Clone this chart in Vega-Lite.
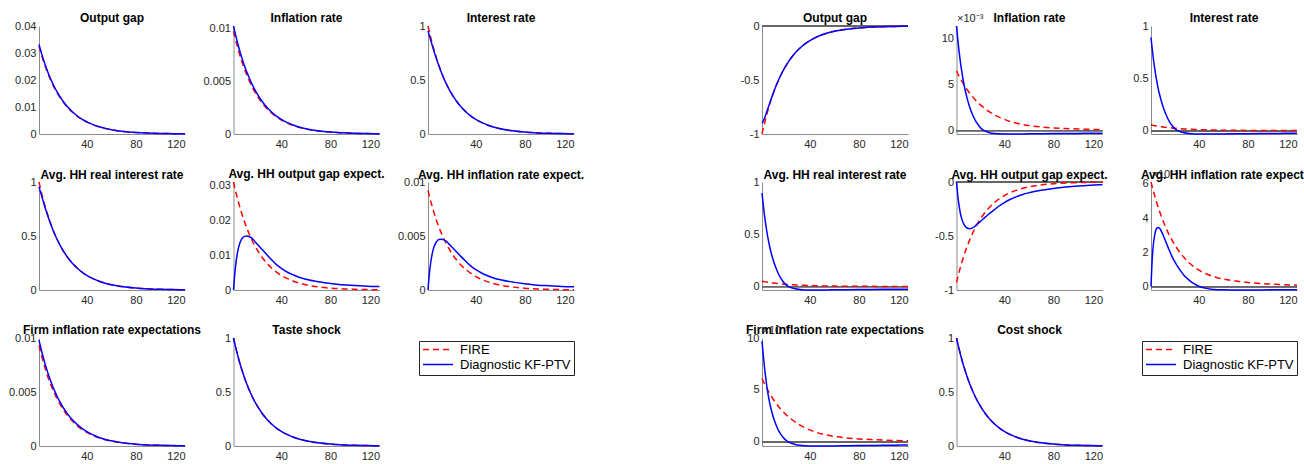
{
  "$schema": "https://vega.github.io/schema/vega-lite/v6.json",
  "padding": {"left": 8, "top": 12, "right": 0, "bottom": 0},
  "config": {
    "view": {"stroke": null},
    "font": "Liberation Sans",
    "locale": {"number": {"decimal": ".", "thousands": ",", "grouping": [3], "currency": ["$", ""], "minus": "-"}},
    "axis": {"grid": false, "ticks": false, "labelOverlap": false, "domainColor": "#8c8c8c", "domainWidth": 1, "labelColor": "#262626", "labelFontSize": 11, "labelFont": "Liberation Sans"},
    "axisX": {"labelPadding": 4},
    "axisY": {"labelPadding": 3},
    "rule": {"color": "#666666", "strokeWidth": 1},
    "title": {"fontSize": 12, "fontWeight": "bold", "color": "#000000", "frame": "group", "anchor": "middle", "offset": 5, "baseline": "alphabetic", "font": "Liberation Sans"}
  },
  "datasets": {
    "taste": [
      {"t":1,"og_f":0.0325,"og_d":0.0332,"pi_f":0.0097,"pi_d":0.0102,"i_f":1,"i_d":0.955,"r_f":1,"r_d":0.955,"ey_f":0.031,"ey_d":0,"epi_f":0.0092,"epi_d":0,"fpi_f":0.0093,"fpi_d":0.0098,"sh":1},
      {"t":2,"og_f":0.03088,"og_d":0.03154,"pi_f":0.00922,"pi_d":0.00969,"i_f":0.95,"i_d":0.9158,"r_f":0.95,"r_d":0.9158,"ey_f":0.02945,"ey_d":0.0045,"epi_f":0.00874,"epi_d":0.00136,"fpi_f":0.00884,"fpi_d":0.00931,"sh":0.95},
      {"t":3,"og_f":0.02933,"og_d":0.02996,"pi_f":0.00875,"pi_d":0.00921,"i_f":0.9025,"i_d":0.8765,"r_f":0.9025,"r_d":0.8765,"ey_f":0.02798,"ey_d":0.0078,"epi_f":0.0083,"epi_d":0.00236,"fpi_f":0.00839,"fpi_d":0.00884,"sh":0.9025},
      {"t":4,"og_f":0.02787,"og_d":0.02847,"pi_f":0.00832,"pi_d":0.00875,"i_f":0.8574,"i_d":0.8376,"r_f":0.8574,"r_d":0.8376,"ey_f":0.02658,"ey_d":0.0102,"epi_f":0.00789,"epi_d":0.00309,"fpi_f":0.00797,"fpi_d":0.0084,"sh":0.8574},
      {"t":5,"og_f":0.02647,"og_d":0.02704,"pi_f":0.0079,"pi_d":0.00831,"i_f":0.8145,"i_d":0.7995,"r_f":0.8145,"r_d":0.7995,"ey_f":0.02525,"ey_d":0.012,"epi_f":0.00749,"epi_d":0.00364,"fpi_f":0.00757,"fpi_d":0.00798,"sh":0.8145},
      {"t":6,"og_f":0.02515,"og_d":0.02569,"pi_f":0.00751,"pi_d":0.00789,"i_f":0.7738,"i_d":0.7623,"r_f":0.7738,"r_d":0.7623,"ey_f":0.02399,"ey_d":0.0133,"epi_f":0.00712,"epi_d":0.00403,"fpi_f":0.0072,"fpi_d":0.00758,"sh":0.7738},
      {"t":7,"og_f":0.02389,"og_d":0.0244,"pi_f":0.00713,"pi_d":0.0075,"i_f":0.7351,"i_d":0.7264,"r_f":0.7351,"r_d":0.7264,"ey_f":0.02279,"ey_d":0.0142,"epi_f":0.00676,"epi_d":0.0043,"fpi_f":0.00684,"fpi_d":0.0072,"sh":0.7351},
      {"t":8,"og_f":0.02269,"og_d":0.02318,"pi_f":0.00677,"pi_d":0.00712,"i_f":0.6983,"i_d":0.6917,"r_f":0.6983,"r_d":0.6917,"ey_f":0.02165,"ey_d":0.0148,"epi_f":0.00642,"epi_d":0.00448,"fpi_f":0.00649,"fpi_d":0.00684,"sh":0.6983},
      {"t":10,"og_f":0.02048,"og_d":0.02092,"pi_f":0.00611,"pi_d":0.00643,"i_f":0.6302,"i_d":0.6264,"r_f":0.6302,"r_d":0.6264,"ey_f":0.01954,"ey_d":0.0154,"epi_f":0.0058,"epi_d":0.00467,"fpi_f":0.00586,"fpi_d":0.00618,"sh":0.6302},
      {"t":12,"og_f":0.01849,"og_d":0.01888,"pi_f":0.00552,"pi_d":0.0058,"i_f":0.5688,"i_d":0.5666,"r_f":0.5688,"r_d":0.5666,"ey_f":0.01763,"ey_d":0.0155,"epi_f":0.00523,"epi_d":0.0047,"fpi_f":0.00529,"fpi_d":0.00557,"sh":0.5688},
      {"t":14,"og_f":0.01668,"og_d":0.01704,"pi_f":0.00498,"pi_d":0.00524,"i_f":0.5133,"i_d":0.512,"r_f":0.5133,"r_d":0.512,"ey_f":0.01591,"ey_d":0.0153,"epi_f":0.00472,"epi_d":0.00464,"fpi_f":0.00477,"fpi_d":0.00503,"sh":0.5133},
      {"t":16,"og_f":0.01506,"og_d":0.01538,"pi_f":0.00449,"pi_d":0.00473,"i_f":0.4633,"i_d":0.4626,"r_f":0.4633,"r_d":0.4626,"ey_f":0.01436,"ey_d":0.0149,"epi_f":0.00426,"epi_d":0.00451,"fpi_f":0.00431,"fpi_d":0.00454,"sh":0.4633},
      {"t":18,"og_f":0.01359,"og_d":0.01388,"pi_f":0.00406,"pi_d":0.00426,"i_f":0.4181,"i_d":0.4177,"r_f":0.4181,"r_d":0.4177,"ey_f":0.01296,"ey_d":0.0141,"epi_f":0.00385,"epi_d":0.00427,"fpi_f":0.00389,"fpi_d":0.0041,"sh":0.4181},
      {"t":20,"og_f":0.01227,"og_d":0.01253,"pi_f":0.00366,"pi_d":0.00385,"i_f":0.3774,"i_d":0.3772,"r_f":0.3774,"r_d":0.3772,"ey_f":0.0117,"ey_d":0.0133,"epi_f":0.00347,"epi_d":0.00403,"fpi_f":0.00351,"fpi_d":0.0037,"sh":0.3774},
      {"t":22,"og_f":0.01107,"og_d":0.01131,"pi_f":0.0033,"pi_d":0.00347,"i_f":0.3406,"i_d":0.3406,"r_f":0.3406,"r_d":0.3406,"ey_f":0.01056,"ey_d":0.0125,"epi_f":0.00313,"epi_d":0.00379,"fpi_f":0.00317,"fpi_d":0.00334,"sh":0.3406},
      {"t":25,"og_f":0.00949,"og_d":0.00969,"pi_f":0.00283,"pi_d":0.00298,"i_f":0.292,"i_d":0.292,"r_f":0.292,"r_d":0.292,"ey_f":0.00905,"ey_d":0.0114,"epi_f":0.00269,"epi_d":0.00345,"fpi_f":0.00272,"fpi_d":0.00286,"sh":0.292},
      {"t":28,"og_f":0.00813,"og_d":0.00831,"pi_f":0.00243,"pi_d":0.00255,"i_f":0.2503,"i_d":0.2503,"r_f":0.2503,"r_d":0.2503,"ey_f":0.00776,"ey_d":0.0102,"epi_f":0.0023,"epi_d":0.00309,"fpi_f":0.00233,"fpi_d":0.00245,"sh":0.2503},
      {"t":32,"og_f":0.00663,"og_d":0.00677,"pi_f":0.00198,"pi_d":0.00208,"i_f":0.2039,"i_d":0.2039,"r_f":0.2039,"r_d":0.2039,"ey_f":0.00632,"ey_d":0.0087,"epi_f":0.00188,"epi_d":0.00264,"fpi_f":0.0019,"fpi_d":0.002,"sh":0.2039},
      {"t":36,"og_f":0.0054,"og_d":0.00551,"pi_f":0.00161,"pi_d":0.00169,"i_f":0.1661,"i_d":0.1661,"r_f":0.1661,"r_d":0.1661,"ey_f":0.00515,"ey_d":0.0073,"epi_f":0.00153,"epi_d":0.00221,"fpi_f":0.00154,"fpi_d":0.00163,"sh":0.1661},
      {"t":40,"og_f":0.0044,"og_d":0.00449,"pi_f":0.00131,"pi_d":0.00138,"i_f":0.1353,"i_d":0.1353,"r_f":0.1353,"r_d":0.1353,"ey_f":0.00419,"ey_d":0.0062,"epi_f":0.00124,"epi_d":0.00188,"fpi_f":0.00126,"fpi_d":0.00133,"sh":0.1353},
      {"t":45,"og_f":0.0034,"og_d":0.00348,"pi_f":0.00102,"pi_d":0.00107,"i_f":0.1047,"i_d":0.1047,"r_f":0.1047,"r_d":0.1047,"ey_f":0.00325,"ey_d":0.0051,"epi_f":0.00096,"epi_d":0.00155,"fpi_f":0.00097,"fpi_d":0.00103,"sh":0.1047},
      {"t":50,"og_f":0.00263,"og_d":0.00269,"pi_f":0.00079,"pi_d":0.00083,"i_f":0.081,"i_d":0.081,"r_f":0.081,"r_d":0.081,"ey_f":0.00251,"ey_d":0.0043,"epi_f":0.00075,"epi_d":0.0013,"fpi_f":0.00075,"fpi_d":0.00079,"sh":0.081},
      {"t":55,"og_f":0.00204,"og_d":0.00208,"pi_f":0.00061,"pi_d":0.00064,"i_f":0.0627,"i_d":0.0627,"r_f":0.0627,"r_d":0.0627,"ey_f":0.00194,"ey_d":0.0036,"epi_f":0.00058,"epi_d":0.00109,"fpi_f":0.00058,"fpi_d":0.00061,"sh":0.0627},
      {"t":60,"og_f":0.00158,"og_d":0.00161,"pi_f":0.00047,"pi_d":0.00049,"i_f":0.0485,"i_d":0.0485,"r_f":0.0485,"r_d":0.0485,"ey_f":0.0015,"ey_d":0.0031,"epi_f":0.00045,"epi_d":0.00094,"fpi_f":0.00045,"fpi_d":0.00048,"sh":0.0485},
      {"t":70,"og_f":0.00094,"og_d":0.00096,"pi_f":0.00028,"pi_d":0.0003,"i_f":0.029,"i_d":0.029,"r_f":0.029,"r_d":0.029,"ey_f":0.0009,"ey_d":0.0024,"epi_f":0.00027,"epi_d":0.00073,"fpi_f":0.00027,"fpi_d":0.00028,"sh":0.029},
      {"t":80,"og_f":0.00057,"og_d":0.00058,"pi_f":0.00017,"pi_d":0.00018,"i_f":0.0174,"i_d":0.0174,"r_f":0.0174,"r_d":0.0174,"ey_f":0.00054,"ey_d":0.0019,"epi_f":0.00016,"epi_d":0.00058,"fpi_f":0.00016,"fpi_d":0.00017,"sh":0.0174},
      {"t":90,"og_f":0.00034,"og_d":0.00035,"pi_f":0.0001,"pi_d":0.00011,"i_f":0.0104,"i_d":0.0104,"r_f":0.0104,"r_d":0.0104,"ey_f":0.00032,"ey_d":0.0015,"epi_f":0.0001,"epi_d":0.00045,"fpi_f":0.0001,"fpi_d":0.0001,"sh":0.0104},
      {"t":100,"og_f":0.0002,"og_d":0.00021,"pi_f":0.00006,"pi_d":0.00006,"i_f":0.0062,"i_d":0.0062,"r_f":0.0062,"r_d":0.0062,"ey_f":0.00019,"ey_d":0.0013,"epi_f":0.00006,"epi_d":0.00039,"fpi_f":0.00006,"fpi_d":0.00006,"sh":0.0062},
      {"t":110,"og_f":0.00012,"og_d":0.00012,"pi_f":0.00004,"pi_d":0.00004,"i_f":0.0037,"i_d":0.0037,"r_f":0.0037,"r_d":0.0037,"ey_f":0.00011,"ey_d":0.0011,"epi_f":0.00003,"epi_d":0.00033,"fpi_f":0.00003,"fpi_d":0.00004,"sh":0.0037},
      {"t":120,"og_f":0.00007,"og_d":0.00007,"pi_f":0.00002,"pi_d":0.00002,"i_f":0.0022,"i_d":0.0022,"r_f":0.0022,"r_d":0.0022,"ey_f":0.00007,"ey_d":0.001,"epi_f":0.00002,"epi_d":0.0003,"fpi_f":0.00002,"fpi_d":0.00002,"sh":0.0022}
    ],
    "cost": [
      {"t":1,"og_f":-1,"og_d":-0.9,"pi_f":6.5,"pi_d":11.4,"i_f":0.054,"i_d":0.89,"r_f":0.051,"r_d":0.895,"ey_f":-0.93,"ey_d":0,"epi_f":6.1,"epi_d":0,"fpi_f":6.1,"fpi_d":9.7,"sh":1},
      {"t":2,"og_f":-0.95,"og_d":-0.88,"pi_f":6.22,"pi_d":10,"i_f":0.0517,"i_d":0.78,"r_f":0.0488,"r_d":0.783,"ey_f":-0.8835,"ey_d":-0.12,"epi_f":5.82,"epi_d":1.6,"fpi_f":5.84,"fpi_d":8.4,"sh":0.95},
      {"t":3,"og_f":-0.9025,"og_d":-0.8535,"pi_f":5.95,"pi_d":8.75,"i_f":0.0495,"i_d":0.68,"r_f":0.0467,"r_d":0.683,"ey_f":-0.8393,"ey_d":-0.21,"epi_f":5.55,"epi_d":2.5,"fpi_f":5.59,"fpi_d":7.2,"sh":0.9025},
      {"t":4,"og_f":-0.8574,"og_d":-0.8231,"pi_f":5.7,"pi_d":7.65,"i_f":0.0474,"i_d":0.595,"r_f":0.0447,"r_d":0.597,"ey_f":-0.7974,"ey_d":-0.28,"epi_f":5.3,"epi_d":3,"fpi_f":5.35,"fpi_d":6.2,"sh":0.8574},
      {"t":5,"og_f":-0.8145,"og_d":-0.7905,"pi_f":5.46,"pi_d":6.7,"i_f":0.0454,"i_d":0.52,"r_f":0.0428,"r_d":0.521,"ey_f":-0.7575,"ey_d":-0.33,"epi_f":5.05,"epi_d":3.3,"fpi_f":5.12,"fpi_d":5.3,"sh":0.8145},
      {"t":6,"og_f":-0.7738,"og_d":-0.757,"pi_f":5.23,"pi_d":5.85,"i_f":0.0434,"i_d":0.455,"r_f":0.041,"r_d":0.455,"ey_f":-0.7196,"ey_d":-0.365,"epi_f":4.82,"epi_d":3.42,"fpi_f":4.9,"fpi_d":4.55,"sh":0.7738},
      {"t":7,"og_f":-0.7351,"og_d":-0.7233,"pi_f":5.01,"pi_d":5.1,"i_f":0.0416,"i_d":0.395,"r_f":0.0393,"r_d":0.395,"ey_f":-0.6836,"ey_d":-0.39,"epi_f":4.6,"epi_d":3.45,"fpi_f":4.7,"fpi_d":3.9,"sh":0.7351},
      {"t":8,"og_f":-0.6983,"og_d":-0.6901,"pi_f":4.79,"pi_d":4.45,"i_f":0.0398,"i_d":0.345,"r_f":0.0376,"r_d":0.345,"ey_f":-0.6494,"ey_d":-0.41,"epi_f":4.38,"epi_d":3.4,"fpi_f":4.5,"fpi_d":3.35,"sh":0.6983},
      {"t":10,"og_f":-0.6302,"og_d":-0.6262,"pi_f":4.39,"pi_d":3.35,"i_f":0.0365,"i_d":0.26,"r_f":0.0345,"r_d":0.259,"ey_f":-0.5861,"ey_d":-0.428,"epi_f":3.98,"epi_d":3.15,"fpi_f":4.12,"fpi_d":2.45,"sh":0.6302},
      {"t":12,"og_f":-0.5688,"og_d":-0.5668,"pi_f":4.03,"pi_d":2.45,"i_f":0.0335,"i_d":0.19,"r_f":0.0316,"r_d":0.189,"ey_f":-0.529,"ey_d":-0.432,"epi_f":3.62,"epi_d":2.8,"fpi_f":3.78,"fpi_d":1.75,"sh":0.5688},
      {"t":14,"og_f":-0.5133,"og_d":-0.5123,"pi_f":3.7,"pi_d":1.75,"i_f":0.0307,"i_d":0.133,"r_f":0.029,"r_d":0.132,"ey_f":-0.4774,"ey_d":-0.425,"epi_f":3.29,"epi_d":2.45,"fpi_f":3.47,"fpi_d":1.2,"sh":0.5133},
      {"t":16,"og_f":-0.4633,"og_d":-0.4628,"pi_f":3.39,"pi_d":1.2,"i_f":0.0282,"i_d":0.087,"r_f":0.0266,"r_d":0.086,"ey_f":-0.4309,"ey_d":-0.41,"epi_f":2.99,"epi_d":2.1,"fpi_f":3.18,"fpi_d":0.78,"sh":0.4633},
      {"t":18,"og_f":-0.4181,"og_d":-0.4179,"pi_f":3.11,"pi_d":0.75,"i_f":0.0259,"i_d":0.052,"r_f":0.0244,"r_d":0.051,"ey_f":-0.3888,"ey_d":-0.39,"epi_f":2.72,"epi_d":1.78,"fpi_f":2.92,"fpi_d":0.45,"sh":0.4181},
      {"t":20,"og_f":-0.3774,"og_d":-0.3773,"pi_f":2.86,"pi_d":0.4,"i_f":0.0238,"i_d":0.024,"r_f":0.0224,"r_d":0.023,"ey_f":-0.351,"ey_d":-0.37,"epi_f":2.47,"epi_d":1.5,"fpi_f":2.68,"fpi_d":0.2,"sh":0.3774},
      {"t":22,"og_f":-0.3406,"og_d":-0.3406,"pi_f":2.63,"pi_d":0.13,"i_f":0.0218,"i_d":0.005,"r_f":0.0206,"r_d":0.004,"ey_f":-0.3168,"ey_d":-0.35,"epi_f":2.25,"epi_d":1.25,"fpi_f":2.46,"fpi_d":0.02,"sh":0.3406},
      {"t":25,"og_f":-0.292,"og_d":-0.292,"pi_f":2.31,"pi_d":-0.1,"i_f":0.0192,"i_d":-0.011,"r_f":0.0181,"r_d":-0.012,"ey_f":-0.2716,"ey_d":-0.32,"epi_f":1.95,"epi_d":0.93,"fpi_f":2.17,"fpi_d":-0.15,"sh":0.292},
      {"t":28,"og_f":-0.2503,"og_d":-0.2503,"pi_f":2.03,"pi_d":-0.23,"i_f":0.0169,"i_d":-0.021,"r_f":0.016,"r_d":-0.022,"ey_f":-0.2328,"ey_d":-0.29,"epi_f":1.69,"epi_d":0.65,"fpi_f":1.91,"fpi_d":-0.26,"sh":0.2503},
      {"t":32,"og_f":-0.2039,"og_d":-0.2039,"pi_f":1.71,"pi_d":-0.32,"i_f":0.0142,"i_d":-0.028,"r_f":0.0134,"r_d":-0.029,"ey_f":-0.1896,"ey_d":-0.255,"epi_f":1.39,"epi_d":0.38,"fpi_f":1.6,"fpi_d":-0.34,"sh":0.2039},
      {"t":36,"og_f":-0.1661,"og_d":-0.1661,"pi_f":1.44,"pi_d":-0.36,"i_f":0.012,"i_d":-0.031,"r_f":0.0113,"r_d":-0.032,"ey_f":-0.1545,"ey_d":-0.22,"epi_f":1.15,"epi_d":0.17,"fpi_f":1.35,"fpi_d":-0.38,"sh":0.1661},
      {"t":40,"og_f":-0.1353,"og_d":-0.1353,"pi_f":1.22,"pi_d":-0.37,"i_f":0.0101,"i_d":-0.032,"r_f":0.0095,"r_d":-0.033,"ey_f":-0.1258,"ey_d":-0.19,"epi_f":0.96,"epi_d":0.02,"fpi_f":1.14,"fpi_d":-0.4,"sh":0.1353},
      {"t":45,"og_f":-0.1047,"og_d":-0.1047,"pi_f":0.98,"pi_d":-0.375,"i_f":0.0082,"i_d":-0.032,"r_f":0.0077,"r_d":-0.033,"ey_f":-0.0974,"ey_d":-0.16,"epi_f":0.77,"epi_d":-0.09,"fpi_f":0.92,"fpi_d":-0.41,"sh":0.1047},
      {"t":50,"og_f":-0.081,"og_d":-0.081,"pi_f":0.8,"pi_d":-0.37,"i_f":0.0066,"i_d":-0.032,"r_f":0.0063,"r_d":-0.033,"ey_f":-0.0753,"ey_d":-0.135,"epi_f":0.63,"epi_d":-0.15,"fpi_f":0.75,"fpi_d":-0.41,"sh":0.081},
      {"t":55,"og_f":-0.0627,"og_d":-0.0627,"pi_f":0.66,"pi_d":-0.365,"i_f":0.0055,"i_d":-0.031,"r_f":0.0052,"r_d":-0.032,"ey_f":-0.0583,"ey_d":-0.115,"epi_f":0.52,"epi_d":-0.18,"fpi_f":0.62,"fpi_d":-0.405,"sh":0.0627},
      {"t":60,"og_f":-0.0485,"og_d":-0.0485,"pi_f":0.55,"pi_d":-0.36,"i_f":0.0045,"i_d":-0.031,"r_f":0.0043,"r_d":-0.031,"ey_f":-0.0451,"ey_d":-0.1,"epi_f":0.44,"epi_d":-0.19,"fpi_f":0.51,"fpi_d":-0.4,"sh":0.0485},
      {"t":70,"og_f":-0.029,"og_d":-0.029,"pi_f":0.39,"pi_d":-0.345,"i_f":0.0032,"i_d":-0.03,"r_f":0.0031,"r_d":-0.03,"ey_f":-0.027,"ey_d":-0.077,"epi_f":0.32,"epi_d":-0.2,"fpi_f":0.37,"fpi_d":-0.385,"sh":0.029},
      {"t":80,"og_f":-0.0174,"og_d":-0.0174,"pi_f":0.29,"pi_d":-0.33,"i_f":0.0024,"i_d":-0.029,"r_f":0.0023,"r_d":-0.029,"ey_f":-0.0162,"ey_d":-0.06,"epi_f":0.24,"epi_d":-0.2,"fpi_f":0.27,"fpi_d":-0.37,"sh":0.0174},
      {"t":90,"og_f":-0.0104,"og_d":-0.0104,"pi_f":0.22,"pi_d":-0.32,"i_f":0.0018,"i_d":-0.028,"r_f":0.0017,"r_d":-0.028,"ey_f":-0.0097,"ey_d":-0.047,"epi_f":0.18,"epi_d":-0.195,"fpi_f":0.21,"fpi_d":-0.355,"sh":0.0104},
      {"t":100,"og_f":-0.0062,"og_d":-0.0062,"pi_f":0.17,"pi_d":-0.31,"i_f":0.0014,"i_d":-0.027,"r_f":0.0013,"r_d":-0.027,"ey_f":-0.0058,"ey_d":-0.037,"epi_f":0.14,"epi_d":-0.19,"fpi_f":0.16,"fpi_d":-0.34,"sh":0.0062},
      {"t":110,"og_f":-0.0037,"og_d":-0.0037,"pi_f":0.13,"pi_d":-0.3,"i_f":0.0011,"i_d":-0.026,"r_f":0.001,"r_d":-0.026,"ey_f":-0.0034,"ey_d":-0.03,"epi_f":0.11,"epi_d":-0.185,"fpi_f":0.12,"fpi_d":-0.33,"sh":0.0037},
      {"t":120,"og_f":-0.0022,"og_d":-0.0022,"pi_f":0.1,"pi_d":-0.29,"i_f":0.0008,"i_d":-0.025,"r_f":0.0008,"r_d":-0.025,"ey_f":-0.002,"ey_d":-0.025,"epi_f":0.08,"epi_d":-0.18,"fpi_f":0.09,"fpi_d":-0.32,"sh":0.0022}
    ]
  },
  "columns": 7,
  "align": "each",
  "bounds": "flush",
  "spacing": {"row": 48, "column": 48.5},
  "resolve": {"scale": {"color": "independent", "strokeDash": "independent"}},
  "concat": [
    {"title": {"text": "Output gap", "dy": 10}, "width": 146, "height": 108, "data": {"name": "taste"}, "layer": [
      {"mark": {"type": "line", "color": "#ff0000", "strokeDash": [6, 4], "strokeWidth": 1.5, "interpolate": "monotone"}, "encoding": {"x": {"field": "t", "type": "quantitative", "scale": {"domain": [1, 120], "nice": false, "zero": false}, "axis": {"values": [40, 80, 120], "title": null}}, "y": {"field": "og_f", "type": "quantitative", "scale": {"domain": [0, 0.04], "nice": false, "zero": false}, "axis": {"values": [0, 0.01, 0.02, 0.03, 0.04], "format": "~f", "labelOverlap": false, "title": null}}}},
      {"mark": {"type": "line", "color": "#0000ff", "strokeWidth": 1.5, "interpolate": "monotone"}, "encoding": {"x": {"field": "t", "type": "quantitative", "scale": {"domain": [1, 120], "nice": false, "zero": false}, "axis": {"values": [40, 80, 120], "title": null}}, "y": {"field": "og_d", "type": "quantitative", "scale": {"domain": [0, 0.04], "nice": false, "zero": false}, "axis": {"values": [0, 0.01, 0.02, 0.03, 0.04], "format": "~f", "labelOverlap": false, "title": null}}}}
    ]},
    {"title": {"text": "Inflation rate", "dy": 8}, "width": 146, "height": 108, "data": {"name": "taste"}, "layer": [
      {"mark": {"type": "line", "color": "#ff0000", "strokeDash": [6, 4], "strokeWidth": 1.5, "interpolate": "monotone"}, "encoding": {"x": {"field": "t", "type": "quantitative", "scale": {"domain": [1, 120], "nice": false, "zero": false}, "axis": {"values": [40, 80, 120], "title": null}}, "y": {"field": "pi_f", "type": "quantitative", "scale": {"domain": [0, 0.0102], "nice": false, "zero": false}, "axis": {"values": [0, 0.005, 0.01], "format": "~f", "labelOverlap": false, "title": null}}}},
      {"mark": {"type": "line", "color": "#0000ff", "strokeWidth": 1.5, "interpolate": "monotone"}, "encoding": {"x": {"field": "t", "type": "quantitative", "scale": {"domain": [1, 120], "nice": false, "zero": false}, "axis": {"values": [40, 80, 120], "title": null}}, "y": {"field": "pi_d", "type": "quantitative", "scale": {"domain": [0, 0.0102], "nice": false, "zero": false}, "axis": {"values": [0, 0.005, 0.01], "format": "~f", "labelOverlap": false, "title": null}}}}
    ]},
    {"title": {"text": "Interest rate", "dy": 10}, "width": 146, "height": 108, "data": {"name": "taste"}, "layer": [
      {"mark": {"type": "line", "color": "#ff0000", "strokeDash": [6, 4], "strokeWidth": 1.5, "interpolate": "monotone"}, "encoding": {"x": {"field": "t", "type": "quantitative", "scale": {"domain": [1, 120], "nice": false, "zero": false}, "axis": {"values": [40, 80, 120], "title": null}}, "y": {"field": "i_f", "type": "quantitative", "scale": {"domain": [0, 1], "nice": false, "zero": false}, "axis": {"values": [0, 0.5, 1], "format": "~f", "labelOverlap": false, "title": null}}}},
      {"mark": {"type": "line", "color": "#0000ff", "strokeWidth": 1.5, "interpolate": "monotone"}, "encoding": {"x": {"field": "t", "type": "quantitative", "scale": {"domain": [1, 120], "nice": false, "zero": false}, "axis": {"values": [40, 80, 120], "title": null}}, "y": {"field": "i_d", "type": "quantitative", "scale": {"domain": [0, 1], "nice": false, "zero": false}, "axis": {"values": [0, 0.5, 1], "format": "~f", "labelOverlap": false, "title": null}}}}
    ]},
    {"width": 91, "height": 108, "data": {"values": []}, "mark": "point"},
    {"title": {"text": "Output gap", "dy": 10}, "width": 146, "height": 108, "data": {"name": "cost"}, "layer": [
      {"mark": {"type": "rule"}, "encoding": {"y": {"datum": 0, "type": "quantitative", "scale": {"domain": [-1, 0], "nice": false, "zero": false}, "axis": {"values": [-1, -0.5, 0], "format": "~f", "labelOverlap": false, "title": null}}}},
      {"mark": {"type": "line", "color": "#ff0000", "strokeDash": [6, 4], "strokeWidth": 1.5, "interpolate": "monotone"}, "encoding": {"x": {"field": "t", "type": "quantitative", "scale": {"domain": [1, 120], "nice": false, "zero": false}, "axis": {"values": [40, 80, 120], "title": null}}, "y": {"field": "og_f", "type": "quantitative", "scale": {"domain": [-1, 0], "nice": false, "zero": false}, "axis": {"values": [-1, -0.5, 0], "format": "~f", "labelOverlap": false, "title": null}}}},
      {"mark": {"type": "line", "color": "#0000ff", "strokeWidth": 1.5, "interpolate": "monotone"}, "encoding": {"x": {"field": "t", "type": "quantitative", "scale": {"domain": [1, 120], "nice": false, "zero": false}, "axis": {"values": [40, 80, 120], "title": null}}, "y": {"field": "og_d", "type": "quantitative", "scale": {"domain": [-1, 0], "nice": false, "zero": false}, "axis": {"values": [-1, -0.5, 0], "format": "~f", "labelOverlap": false, "title": null}}}}
    ]},
    {"title": {"text": "Inflation rate", "dy": 18}, "width": 146, "height": 108, "data": {"name": "cost"}, "layer": [
      {"mark": {"type": "rule"}, "encoding": {"y": {"datum": 0, "type": "quantitative", "scale": {"domain": [-0.375, 11.4], "nice": false, "zero": false}, "axis": {"values": [0, 5, 10], "format": "~f", "labelOverlap": false, "title": "×10⁻³", "titleAngle": 0, "titleAlign": "left", "titleBaseline": "alphabetic", "titleX": 0, "titleY": -5, "titleFontWeight": "normal", "titleFontSize": 11, "titleColor": "#262626"}}}},
      {"mark": {"type": "line", "color": "#ff0000", "strokeDash": [6, 4], "strokeWidth": 1.5, "interpolate": "monotone"}, "encoding": {"x": {"field": "t", "type": "quantitative", "scale": {"domain": [1, 120], "nice": false, "zero": false}, "axis": {"values": [40, 80, 120], "title": null}}, "y": {"field": "pi_f", "type": "quantitative", "scale": {"domain": [-0.375, 11.4], "nice": false, "zero": false}, "axis": {"values": [0, 5, 10], "format": "~f", "labelOverlap": false, "title": "×10⁻³", "titleAngle": 0, "titleAlign": "left", "titleBaseline": "alphabetic", "titleX": 0, "titleY": -5, "titleFontWeight": "normal", "titleFontSize": 11, "titleColor": "#262626"}}}},
      {"mark": {"type": "line", "color": "#0000ff", "strokeWidth": 1.5, "interpolate": "monotone"}, "encoding": {"x": {"field": "t", "type": "quantitative", "scale": {"domain": [1, 120], "nice": false, "zero": false}, "axis": {"values": [40, 80, 120], "title": null}}, "y": {"field": "pi_d", "type": "quantitative", "scale": {"domain": [-0.375, 11.4], "nice": false, "zero": false}, "axis": {"values": [0, 5, 10], "format": "~f", "labelOverlap": false, "title": "×10⁻³", "titleAngle": 0, "titleAlign": "left", "titleBaseline": "alphabetic", "titleX": 0, "titleY": -5, "titleFontWeight": "normal", "titleFontSize": 11, "titleColor": "#262626"}}}}
    ]},
    {"title": {"text": "Interest rate", "dy": 10}, "width": 146, "height": 108, "data": {"name": "cost"}, "layer": [
      {"mark": {"type": "rule"}, "encoding": {"y": {"datum": 0, "type": "quantitative", "scale": {"domain": [-0.032, 1], "nice": false, "zero": false}, "axis": {"values": [0, 0.5, 1], "format": "~f", "labelOverlap": false, "title": null}}}},
      {"mark": {"type": "line", "color": "#ff0000", "strokeDash": [6, 4], "strokeWidth": 1.5, "interpolate": "monotone"}, "encoding": {"x": {"field": "t", "type": "quantitative", "scale": {"domain": [1, 120], "nice": false, "zero": false}, "axis": {"values": [40, 80, 120], "title": null}}, "y": {"field": "i_f", "type": "quantitative", "scale": {"domain": [-0.032, 1], "nice": false, "zero": false}, "axis": {"values": [0, 0.5, 1], "format": "~f", "labelOverlap": false, "title": null}}}},
      {"mark": {"type": "line", "color": "#0000ff", "strokeWidth": 1.5, "interpolate": "monotone"}, "encoding": {"x": {"field": "t", "type": "quantitative", "scale": {"domain": [1, 120], "nice": false, "zero": false}, "axis": {"values": [40, 80, 120], "title": null}}, "y": {"field": "i_d", "type": "quantitative", "scale": {"domain": [-0.032, 1], "nice": false, "zero": false}, "axis": {"values": [0, 0.5, 1], "format": "~f", "labelOverlap": false, "title": null}}}}
    ]},
    {"title": {"text": "Avg. HH real interest rate", "dy": 11}, "width": 146, "height": 108, "data": {"name": "taste"}, "layer": [
      {"mark": {"type": "line", "color": "#ff0000", "strokeDash": [6, 4], "strokeWidth": 1.5, "interpolate": "monotone"}, "encoding": {"x": {"field": "t", "type": "quantitative", "scale": {"domain": [1, 120], "nice": false, "zero": false}, "axis": {"values": [40, 80, 120], "title": null}}, "y": {"field": "r_f", "type": "quantitative", "scale": {"domain": [0, 1], "nice": false, "zero": false}, "axis": {"values": [0, 0.5, 1], "format": "~f", "labelOverlap": false, "title": null}}}},
      {"mark": {"type": "line", "color": "#0000ff", "strokeWidth": 1.5, "interpolate": "monotone"}, "encoding": {"x": {"field": "t", "type": "quantitative", "scale": {"domain": [1, 120], "nice": false, "zero": false}, "axis": {"values": [40, 80, 120], "title": null}}, "y": {"field": "r_d", "type": "quantitative", "scale": {"domain": [0, 1], "nice": false, "zero": false}, "axis": {"values": [0, 0.5, 1], "format": "~f", "labelOverlap": false, "title": null}}}}
    ]},
    {"title": {"text": "Avg. HH output gap expect.", "dy": 7}, "width": 146, "height": 108, "data": {"name": "taste"}, "layer": [
      {"mark": {"type": "line", "color": "#ff0000", "strokeDash": [6, 4], "strokeWidth": 1.5, "interpolate": "monotone"}, "encoding": {"x": {"field": "t", "type": "quantitative", "scale": {"domain": [1, 120], "nice": false, "zero": false}, "axis": {"values": [40, 80, 120], "title": null}}, "y": {"field": "ey_f", "type": "quantitative", "scale": {"domain": [0, 0.031], "nice": false, "zero": false}, "axis": {"values": [0, 0.01, 0.02, 0.03], "format": "~f", "labelOverlap": false, "title": null}}}},
      {"mark": {"type": "line", "color": "#0000ff", "strokeWidth": 1.5, "interpolate": "monotone"}, "encoding": {"x": {"field": "t", "type": "quantitative", "scale": {"domain": [1, 120], "nice": false, "zero": false}, "axis": {"values": [40, 80, 120], "title": null}}, "y": {"field": "ey_d", "type": "quantitative", "scale": {"domain": [0, 0.031], "nice": false, "zero": false}, "axis": {"values": [0, 0.01, 0.02, 0.03], "format": "~f", "labelOverlap": false, "title": null}}}}
    ]},
    {"title": {"text": "Avg. HH inflation rate expect.", "dy": 11}, "width": 146, "height": 108, "data": {"name": "taste"}, "layer": [
      {"mark": {"type": "line", "color": "#ff0000", "strokeDash": [6, 4], "strokeWidth": 1.5, "interpolate": "monotone"}, "encoding": {"x": {"field": "t", "type": "quantitative", "scale": {"domain": [1, 120], "nice": false, "zero": false}, "axis": {"values": [40, 80, 120], "title": null}}, "y": {"field": "epi_f", "type": "quantitative", "scale": {"domain": [0, 0.01], "nice": false, "zero": false}, "axis": {"values": [0, 0.005, 0.01], "format": "~f", "labelOverlap": false, "title": null}}}},
      {"mark": {"type": "line", "color": "#0000ff", "strokeWidth": 1.5, "interpolate": "monotone"}, "encoding": {"x": {"field": "t", "type": "quantitative", "scale": {"domain": [1, 120], "nice": false, "zero": false}, "axis": {"values": [40, 80, 120], "title": null}}, "y": {"field": "epi_d", "type": "quantitative", "scale": {"domain": [0, 0.01], "nice": false, "zero": false}, "axis": {"values": [0, 0.005, 0.01], "format": "~f", "labelOverlap": false, "title": null}}}}
    ]},
    {"width": 91, "height": 108, "data": {"values": []}, "mark": "point"},
    {"title": {"text": "Avg. HH real interest rate", "dy": 11}, "width": 146, "height": 108, "data": {"name": "cost"}, "layer": [
      {"mark": {"type": "rule"}, "encoding": {"y": {"datum": 0, "type": "quantitative", "scale": {"domain": [-0.033, 1], "nice": false, "zero": false}, "axis": {"values": [0, 0.5, 1], "format": "~f", "labelOverlap": false, "title": null}}}},
      {"mark": {"type": "line", "color": "#ff0000", "strokeDash": [6, 4], "strokeWidth": 1.5, "interpolate": "monotone"}, "encoding": {"x": {"field": "t", "type": "quantitative", "scale": {"domain": [1, 120], "nice": false, "zero": false}, "axis": {"values": [40, 80, 120], "title": null}}, "y": {"field": "r_f", "type": "quantitative", "scale": {"domain": [-0.033, 1], "nice": false, "zero": false}, "axis": {"values": [0, 0.5, 1], "format": "~f", "labelOverlap": false, "title": null}}}},
      {"mark": {"type": "line", "color": "#0000ff", "strokeWidth": 1.5, "interpolate": "monotone"}, "encoding": {"x": {"field": "t", "type": "quantitative", "scale": {"domain": [1, 120], "nice": false, "zero": false}, "axis": {"values": [40, 80, 120], "title": null}}, "y": {"field": "r_d", "type": "quantitative", "scale": {"domain": [-0.033, 1], "nice": false, "zero": false}, "axis": {"values": [0, 0.5, 1], "format": "~f", "labelOverlap": false, "title": null}}}}
    ]},
    {"title": {"text": "Avg. HH output gap expect.", "dy": 11}, "width": 146, "height": 108, "data": {"name": "cost"}, "layer": [
      {"mark": {"type": "rule"}, "encoding": {"y": {"datum": 0, "type": "quantitative", "scale": {"domain": [-1, 0], "nice": false, "zero": false}, "axis": {"values": [-1, -0.5, 0], "format": "~f", "labelOverlap": false, "title": null}}}},
      {"mark": {"type": "line", "color": "#ff0000", "strokeDash": [6, 4], "strokeWidth": 1.5, "interpolate": "monotone"}, "encoding": {"x": {"field": "t", "type": "quantitative", "scale": {"domain": [1, 120], "nice": false, "zero": false}, "axis": {"values": [40, 80, 120], "title": null}}, "y": {"field": "ey_f", "type": "quantitative", "scale": {"domain": [-1, 0], "nice": false, "zero": false}, "axis": {"values": [-1, -0.5, 0], "format": "~f", "labelOverlap": false, "title": null}}}},
      {"mark": {"type": "line", "color": "#0000ff", "strokeWidth": 1.5, "interpolate": "monotone"}, "encoding": {"x": {"field": "t", "type": "quantitative", "scale": {"domain": [1, 120], "nice": false, "zero": false}, "axis": {"values": [40, 80, 120], "title": null}}, "y": {"field": "ey_d", "type": "quantitative", "scale": {"domain": [-1, 0], "nice": false, "zero": false}, "axis": {"values": [-1, -0.5, 0], "format": "~f", "labelOverlap": false, "title": null}}}}
    ]},
    {"title": {"text": "Avg. HH inflation rate expect.", "dy": 19}, "width": 146, "height": 108, "data": {"name": "cost"}, "layer": [
      {"mark": {"type": "rule"}, "encoding": {"y": {"datum": 0, "type": "quantitative", "scale": {"domain": [-0.2, 6.1], "nice": false, "zero": false}, "axis": {"values": [0, 2, 4, 6], "format": "~f", "labelOverlap": false, "title": "×10⁻³", "titleAngle": 0, "titleAlign": "left", "titleBaseline": "alphabetic", "titleX": 0, "titleY": -5, "titleFontWeight": "normal", "titleFontSize": 11, "titleColor": "#262626"}}}},
      {"mark": {"type": "line", "color": "#ff0000", "strokeDash": [6, 4], "strokeWidth": 1.5, "interpolate": "monotone"}, "encoding": {"x": {"field": "t", "type": "quantitative", "scale": {"domain": [1, 120], "nice": false, "zero": false}, "axis": {"values": [40, 80, 120], "title": null}}, "y": {"field": "epi_f", "type": "quantitative", "scale": {"domain": [-0.2, 6.1], "nice": false, "zero": false}, "axis": {"values": [0, 2, 4, 6], "format": "~f", "labelOverlap": false, "title": "×10⁻³", "titleAngle": 0, "titleAlign": "left", "titleBaseline": "alphabetic", "titleX": 0, "titleY": -5, "titleFontWeight": "normal", "titleFontSize": 11, "titleColor": "#262626"}}}},
      {"mark": {"type": "line", "color": "#0000ff", "strokeWidth": 1.5, "interpolate": "monotone"}, "encoding": {"x": {"field": "t", "type": "quantitative", "scale": {"domain": [1, 120], "nice": false, "zero": false}, "axis": {"values": [40, 80, 120], "title": null}}, "y": {"field": "epi_d", "type": "quantitative", "scale": {"domain": [-0.2, 6.1], "nice": false, "zero": false}, "axis": {"values": [0, 2, 4, 6], "format": "~f", "labelOverlap": false, "title": "×10⁻³", "titleAngle": 0, "titleAlign": "left", "titleBaseline": "alphabetic", "titleX": 0, "titleY": -5, "titleFontWeight": "normal", "titleFontSize": 11, "titleColor": "#262626"}}}}
    ]},
    {"title": {"text": "Firm inflation rate expectations", "dy": 10}, "width": 146, "height": 108, "data": {"name": "taste"}, "layer": [
      {"mark": {"type": "line", "color": "#ff0000", "strokeDash": [6, 4], "strokeWidth": 1.5, "interpolate": "monotone"}, "encoding": {"x": {"field": "t", "type": "quantitative", "scale": {"domain": [1, 120], "nice": false, "zero": false}, "axis": {"values": [40, 80, 120], "title": null}}, "y": {"field": "fpi_f", "type": "quantitative", "scale": {"domain": [0, 0.01], "nice": false, "zero": false}, "axis": {"values": [0, 0.005, 0.01], "format": "~f", "labelOverlap": false, "title": null}}}},
      {"mark": {"type": "line", "color": "#0000ff", "strokeWidth": 1.5, "interpolate": "monotone"}, "encoding": {"x": {"field": "t", "type": "quantitative", "scale": {"domain": [1, 120], "nice": false, "zero": false}, "axis": {"values": [40, 80, 120], "title": null}}, "y": {"field": "fpi_d", "type": "quantitative", "scale": {"domain": [0, 0.01], "nice": false, "zero": false}, "axis": {"values": [0, 0.005, 0.01], "format": "~f", "labelOverlap": false, "title": null}}}}
    ]},
    {"title": {"text": "Taste shock", "dy": 10}, "width": 146, "height": 108, "data": {"name": "taste"}, "layer": [
      {"mark": {"type": "line", "color": "#ff0000", "strokeDash": [6, 4], "strokeWidth": 1.5, "interpolate": "monotone"}, "encoding": {"x": {"field": "t", "type": "quantitative", "scale": {"domain": [1, 120], "nice": false, "zero": false}, "axis": {"values": [40, 80, 120], "title": null}}, "y": {"field": "sh", "type": "quantitative", "scale": {"domain": [0, 1], "nice": false, "zero": false}, "axis": {"values": [0, 0.5, 1], "format": "~f", "labelOverlap": false, "title": null}}}},
      {"mark": {"type": "line", "color": "#0000ff", "strokeWidth": 1.5, "interpolate": "monotone"}, "encoding": {"x": {"field": "t", "type": "quantitative", "scale": {"domain": [1, 120], "nice": false, "zero": false}, "axis": {"values": [40, 80, 120], "title": null}}, "y": {"field": "sh", "type": "quantitative", "scale": {"domain": [0, 1], "nice": false, "zero": false}, "axis": {"values": [0, 0.5, 1], "format": "~f", "labelOverlap": false, "title": null}}}}
    ]},
    {"width": 146, "height": 108, "data": {"values": [{"s": "FIRE"}, {"s": "Diagnostic KF-PTV"}]}, "mark": {"type": "line", "strokeWidth": 1.5},
      "encoding": {
        "x": {"datum": 0, "type": "quantitative", "axis": null},
        "y": {"datum": 0, "type": "quantitative", "axis": null},
        "color": {"field": "s", "type": "nominal", "scale": {"domain": ["FIRE", "Diagnostic KF-PTV"], "range": ["#ff0000", "#0000ff"]}, "legend": {"orient": "none", "legendX": -9, "legendY": 3, "title": null, "strokeColor": "#262626", "fillColor": "#ffffff", "padding": 3, "symbolType": "stroke", "symbolSize": 900, "symbolStrokeWidth": 1.5, "labelFontSize": 13, "labelColor": "#000000", "clipHeight": 11, "rowPadding": 1, "labelOffset": 6}},
        "strokeDash": {"field": "s", "type": "nominal", "scale": {"domain": ["FIRE", "Diagnostic KF-PTV"], "range": [[6, 4], [1, 0]]}, "legend": {"orient": "none", "legendX": -9, "legendY": 3, "title": null, "strokeColor": "#262626", "fillColor": "#ffffff", "padding": 3, "symbolType": "stroke", "symbolSize": 900, "symbolStrokeWidth": 1.5, "labelFontSize": 13, "labelColor": "#000000", "clipHeight": 11, "rowPadding": 1, "labelOffset": 6}}
      }
    },
    {"width": 91, "height": 108, "data": {"values": []}, "mark": "point"},
    {"title": {"text": "Firm inflation rate expectations", "dy": 18}, "width": 146, "height": 108, "data": {"name": "cost"}, "layer": [
      {"mark": {"type": "rule"}, "encoding": {"y": {"datum": 0, "type": "quantitative", "scale": {"domain": [-0.41, 10], "nice": false, "zero": false}, "axis": {"values": [0, 5, 10], "format": "~f", "labelOverlap": false, "title": "×10⁻³", "titleAngle": 0, "titleAlign": "left", "titleBaseline": "alphabetic", "titleX": 0, "titleY": -5, "titleFontWeight": "normal", "titleFontSize": 11, "titleColor": "#262626"}}}},
      {"mark": {"type": "line", "color": "#ff0000", "strokeDash": [6, 4], "strokeWidth": 1.5, "interpolate": "monotone"}, "encoding": {"x": {"field": "t", "type": "quantitative", "scale": {"domain": [1, 120], "nice": false, "zero": false}, "axis": {"values": [40, 80, 120], "title": null}}, "y": {"field": "fpi_f", "type": "quantitative", "scale": {"domain": [-0.41, 10], "nice": false, "zero": false}, "axis": {"values": [0, 5, 10], "format": "~f", "labelOverlap": false, "title": "×10⁻³", "titleAngle": 0, "titleAlign": "left", "titleBaseline": "alphabetic", "titleX": 0, "titleY": -5, "titleFontWeight": "normal", "titleFontSize": 11, "titleColor": "#262626"}}}},
      {"mark": {"type": "line", "color": "#0000ff", "strokeWidth": 1.5, "interpolate": "monotone"}, "encoding": {"x": {"field": "t", "type": "quantitative", "scale": {"domain": [1, 120], "nice": false, "zero": false}, "axis": {"values": [40, 80, 120], "title": null}}, "y": {"field": "fpi_d", "type": "quantitative", "scale": {"domain": [-0.41, 10], "nice": false, "zero": false}, "axis": {"values": [0, 5, 10], "format": "~f", "labelOverlap": false, "title": "×10⁻³", "titleAngle": 0, "titleAlign": "left", "titleBaseline": "alphabetic", "titleX": 0, "titleY": -5, "titleFontWeight": "normal", "titleFontSize": 11, "titleColor": "#262626"}}}}
    ]},
    {"title": {"text": "Cost shock", "dy": 10}, "width": 146, "height": 108, "data": {"name": "cost"}, "layer": [
      {"mark": {"type": "line", "color": "#ff0000", "strokeDash": [6, 4], "strokeWidth": 1.5, "interpolate": "monotone"}, "encoding": {"x": {"field": "t", "type": "quantitative", "scale": {"domain": [1, 120], "nice": false, "zero": false}, "axis": {"values": [40, 80, 120], "title": null}}, "y": {"field": "sh", "type": "quantitative", "scale": {"domain": [0, 1], "nice": false, "zero": false}, "axis": {"values": [0, 0.5, 1], "format": "~f", "labelOverlap": false, "title": null}}}},
      {"mark": {"type": "line", "color": "#0000ff", "strokeWidth": 1.5, "interpolate": "monotone"}, "encoding": {"x": {"field": "t", "type": "quantitative", "scale": {"domain": [1, 120], "nice": false, "zero": false}, "axis": {"values": [40, 80, 120], "title": null}}, "y": {"field": "sh", "type": "quantitative", "scale": {"domain": [0, 1], "nice": false, "zero": false}, "axis": {"values": [0, 0.5, 1], "format": "~f", "labelOverlap": false, "title": null}}}}
    ]},
    {"width": 146, "height": 108, "data": {"values": [{"s": "FIRE"}, {"s": "Diagnostic KF-PTV"}]}, "mark": {"type": "line", "strokeWidth": 1.5},
      "encoding": {
        "x": {"datum": 0, "type": "quantitative", "axis": null},
        "y": {"datum": 0, "type": "quantitative", "axis": null},
        "color": {"field": "s", "type": "nominal", "scale": {"domain": ["FIRE", "Diagnostic KF-PTV"], "range": ["#ff0000", "#0000ff"]}, "legend": {"orient": "none", "legendX": -9, "legendY": 3, "title": null, "strokeColor": "#262626", "fillColor": "#ffffff", "padding": 3, "symbolType": "stroke", "symbolSize": 900, "symbolStrokeWidth": 1.5, "labelFontSize": 13, "labelColor": "#000000", "clipHeight": 11, "rowPadding": 1, "labelOffset": 6}},
        "strokeDash": {"field": "s", "type": "nominal", "scale": {"domain": ["FIRE", "Diagnostic KF-PTV"], "range": [[6, 4], [1, 0]]}, "legend": {"orient": "none", "legendX": -9, "legendY": 3, "title": null, "strokeColor": "#262626", "fillColor": "#ffffff", "padding": 3, "symbolType": "stroke", "symbolSize": 900, "symbolStrokeWidth": 1.5, "labelFontSize": 13, "labelColor": "#000000", "clipHeight": 11, "rowPadding": 1, "labelOffset": 6}}
      }
    }
  ]
}
